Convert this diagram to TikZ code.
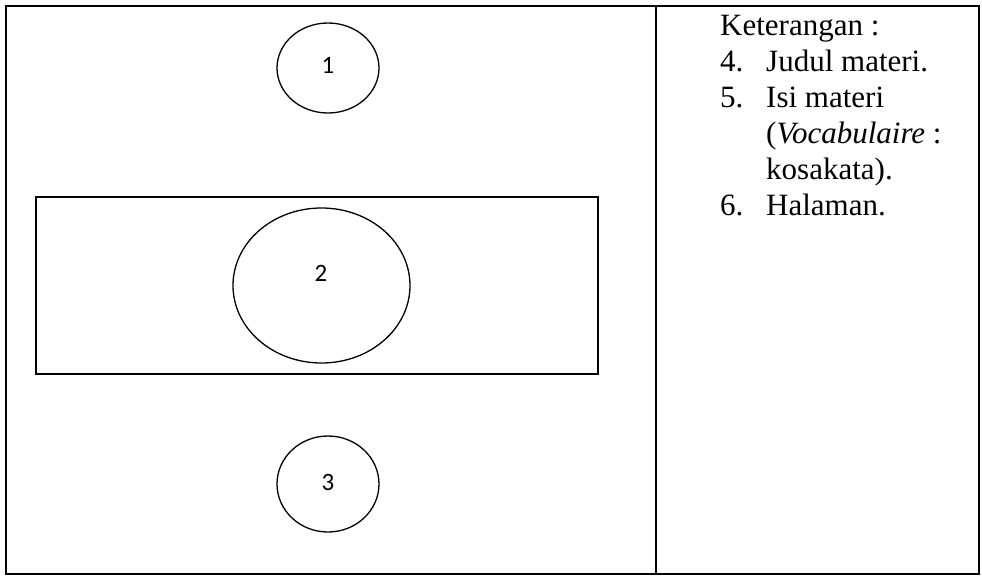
\documentclass[tikz,border=0pt]{standalone}
\usepackage{fontspec}
\setmainfont{Liberation Serif}
\newfontfamily\numfont{Carlito}
\usetikzlibrary{shapes.geometric}
\begin{document}
\begin{tikzpicture}[x=1pt,y=-1pt,
  frameline/.style={line width=2.3pt},
  thinline/.style={line width=1.3pt},
  oval/.style={draw, thinline, ellipse, inner sep=0pt},
  numlabel/.style={font=\numfont\fontsize{25}{28}\selectfont, inner sep=0pt},
  legend/.style={font=\fontsize{31}{36}\selectfont, anchor=base west, inner sep=0pt}]
\useasboundingbox (0,0) rectangle (982,576);
\draw[frameline] (6,6) rectangle (979,574);
\coordinate (divtop) at (656,6);
\coordinate (divbot) at (656,574);
\draw[frameline] (divtop) -- (divbot);
\node[draw, thinline, rectangle, minimum width=562pt, minimum height=177pt, inner sep=0pt] (box) at (317,285.5) {};
\node[oval, minimum width=102pt, minimum height=90pt] (c1) at (328,68) {};
\node[numlabel] (n1) at (328,65) {1};
\node[oval, minimum width=177pt, minimum height=155pt] (c2) at (321.5,285.5) {};
\node[numlabel] (n2) at (321,273) {2};
\node[oval, minimum width=102pt, minimum height=96pt] (c3) at (328,484) {};
\node[numlabel] (n3) at (328,482) {3};
\node[legend] (k0) at (720,35) {Keterangan :};
\node[legend] (k4n) at (720,71) {4.};
\node[legend] (k4) at (766,71) {Judul materi.};
\node[legend] (k5n) at (720,107) {5.};
\node[legend] (k5) at (766,107) {Isi materi};
\node[legend] (k5b) at (766,143) {(\textit{Vocabulaire} :};
\node[legend] (k5c) at (766,179) {kosakata).};
\node[legend] (k6n) at (720,215) {6.};
\node[legend] (k6) at (766,215) {Halaman.};
\end{tikzpicture}
\end{document}
